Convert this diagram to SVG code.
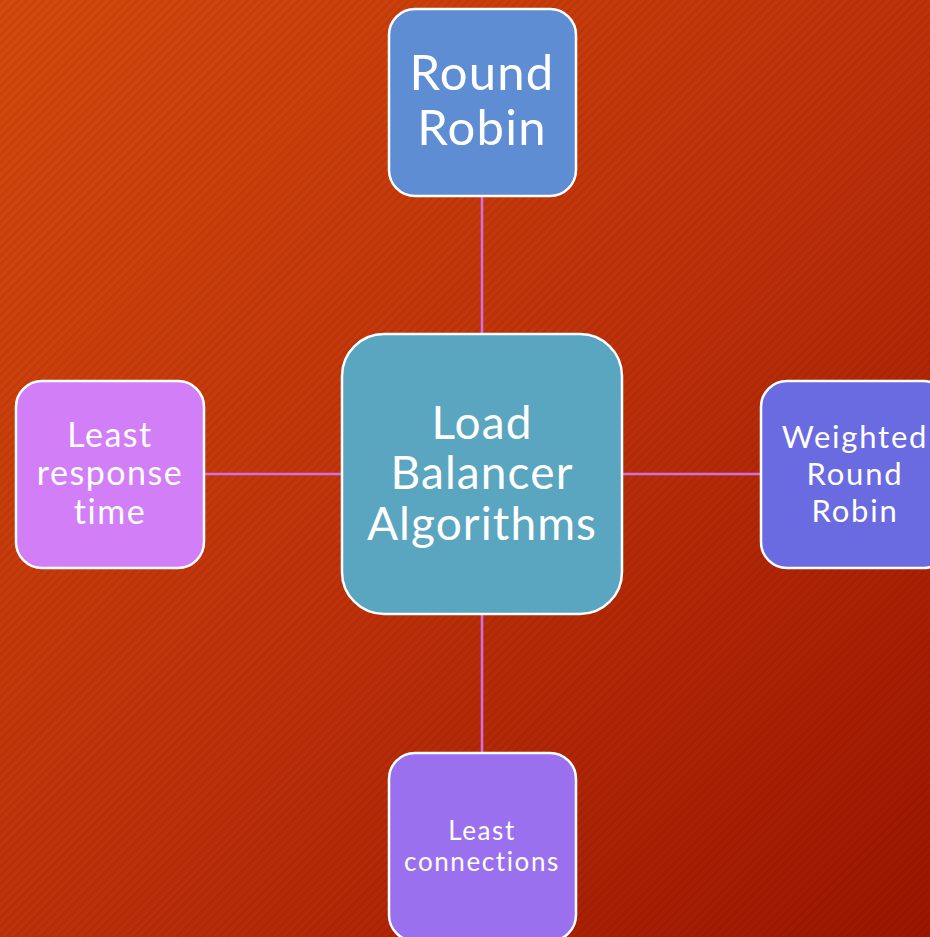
<svg xmlns="http://www.w3.org/2000/svg" width="930" height="937" viewBox="0 0 930 937">
<defs>
<linearGradient id="bg" x1="0" y1="0" x2="1" y2="1">
<stop offset="0" stop-color="#d64a0c"/>
<stop offset="0.5" stop-color="#c0320a"/>
<stop offset="1" stop-color="#9e1500"/>
</linearGradient>
<pattern id="stripes" width="6" height="6" patternUnits="userSpaceOnUse" patternTransform="rotate(-45)">
<rect width="6" height="2.5" fill="#000" opacity="0.07"/>
</pattern>
<style>
.box{stroke:#fff;stroke-width:2.5}
.t{font-family:Lato,"Open Sans",sans-serif;fill:#fff;text-anchor:middle;font-variant-ligatures:none;font-feature-settings:"liga" 0}
.c{stroke:#d070e0;stroke-width:2.5;fill:none}
</style>
</defs>
<rect width="930" height="937" fill="url(#bg)"/>
<rect width="930" height="937" fill="url(#stripes)"/>
<g id="connectors">
<line class="c" x1="482" y1="196" x2="482" y2="334"/>
<line class="c" x1="482" y1="614" x2="482" y2="753"/>
<line class="c" x1="204" y1="474" x2="342" y2="474"/>
<line class="c" x1="622" y1="474" x2="761" y2="474"/>
</g>
<g id="round-robin">
<rect class="box" x="389" y="9" width="187" height="187" rx="26" fill="#5f8dd3"/>
<text class="t" x="482" y="90" font-size="49" letter-spacing="1.2">Round</text>
<text class="t" x="482" y="145" font-size="49" letter-spacing="1.2">Robin</text>
</g>
<g id="center">
<rect class="box" x="342" y="334" width="280" height="280" rx="42" fill="#5aa5c0"/>
<text class="t" x="482" y="439" font-size="46" letter-spacing="1.1">Load</text>
<text class="t" x="482" y="489" font-size="46" letter-spacing="1.1">Balancer</text>
<text class="t" x="482" y="540" font-size="46" letter-spacing="1.1">Algorithms</text>
</g>
<g id="least-response">
<rect class="box" x="16" y="381" width="188" height="187" rx="26" fill="#d17ef7"/>
<text class="t" x="110" y="447" font-size="34" letter-spacing="1.5">Least</text>
<text class="t" x="110" y="485" font-size="34" letter-spacing="1.5">response</text>
<text class="t" x="110" y="524" font-size="34" letter-spacing="1.5">time</text>
</g>
<g id="weighted">
<rect class="box" x="761" y="381" width="188" height="187" rx="26" fill="#6a6be0"/>
<text class="t" x="855" y="448" font-size="31" letter-spacing="1.8">Weighted</text>
<text class="t" x="855" y="485" font-size="31" letter-spacing="1.8">Round</text>
<text class="t" x="855" y="522" font-size="31" letter-spacing="1.8">Robin</text>
</g>
<g id="least-connections">
<rect class="box" x="389" y="753" width="187" height="188" rx="26" fill="#9b70ef"/>
<text class="t" x="482" y="840" font-size="26" letter-spacing="1.6">Least</text>
<text class="t" x="482" y="871" font-size="26" letter-spacing="1.6">connections</text>
</g>
</svg>
